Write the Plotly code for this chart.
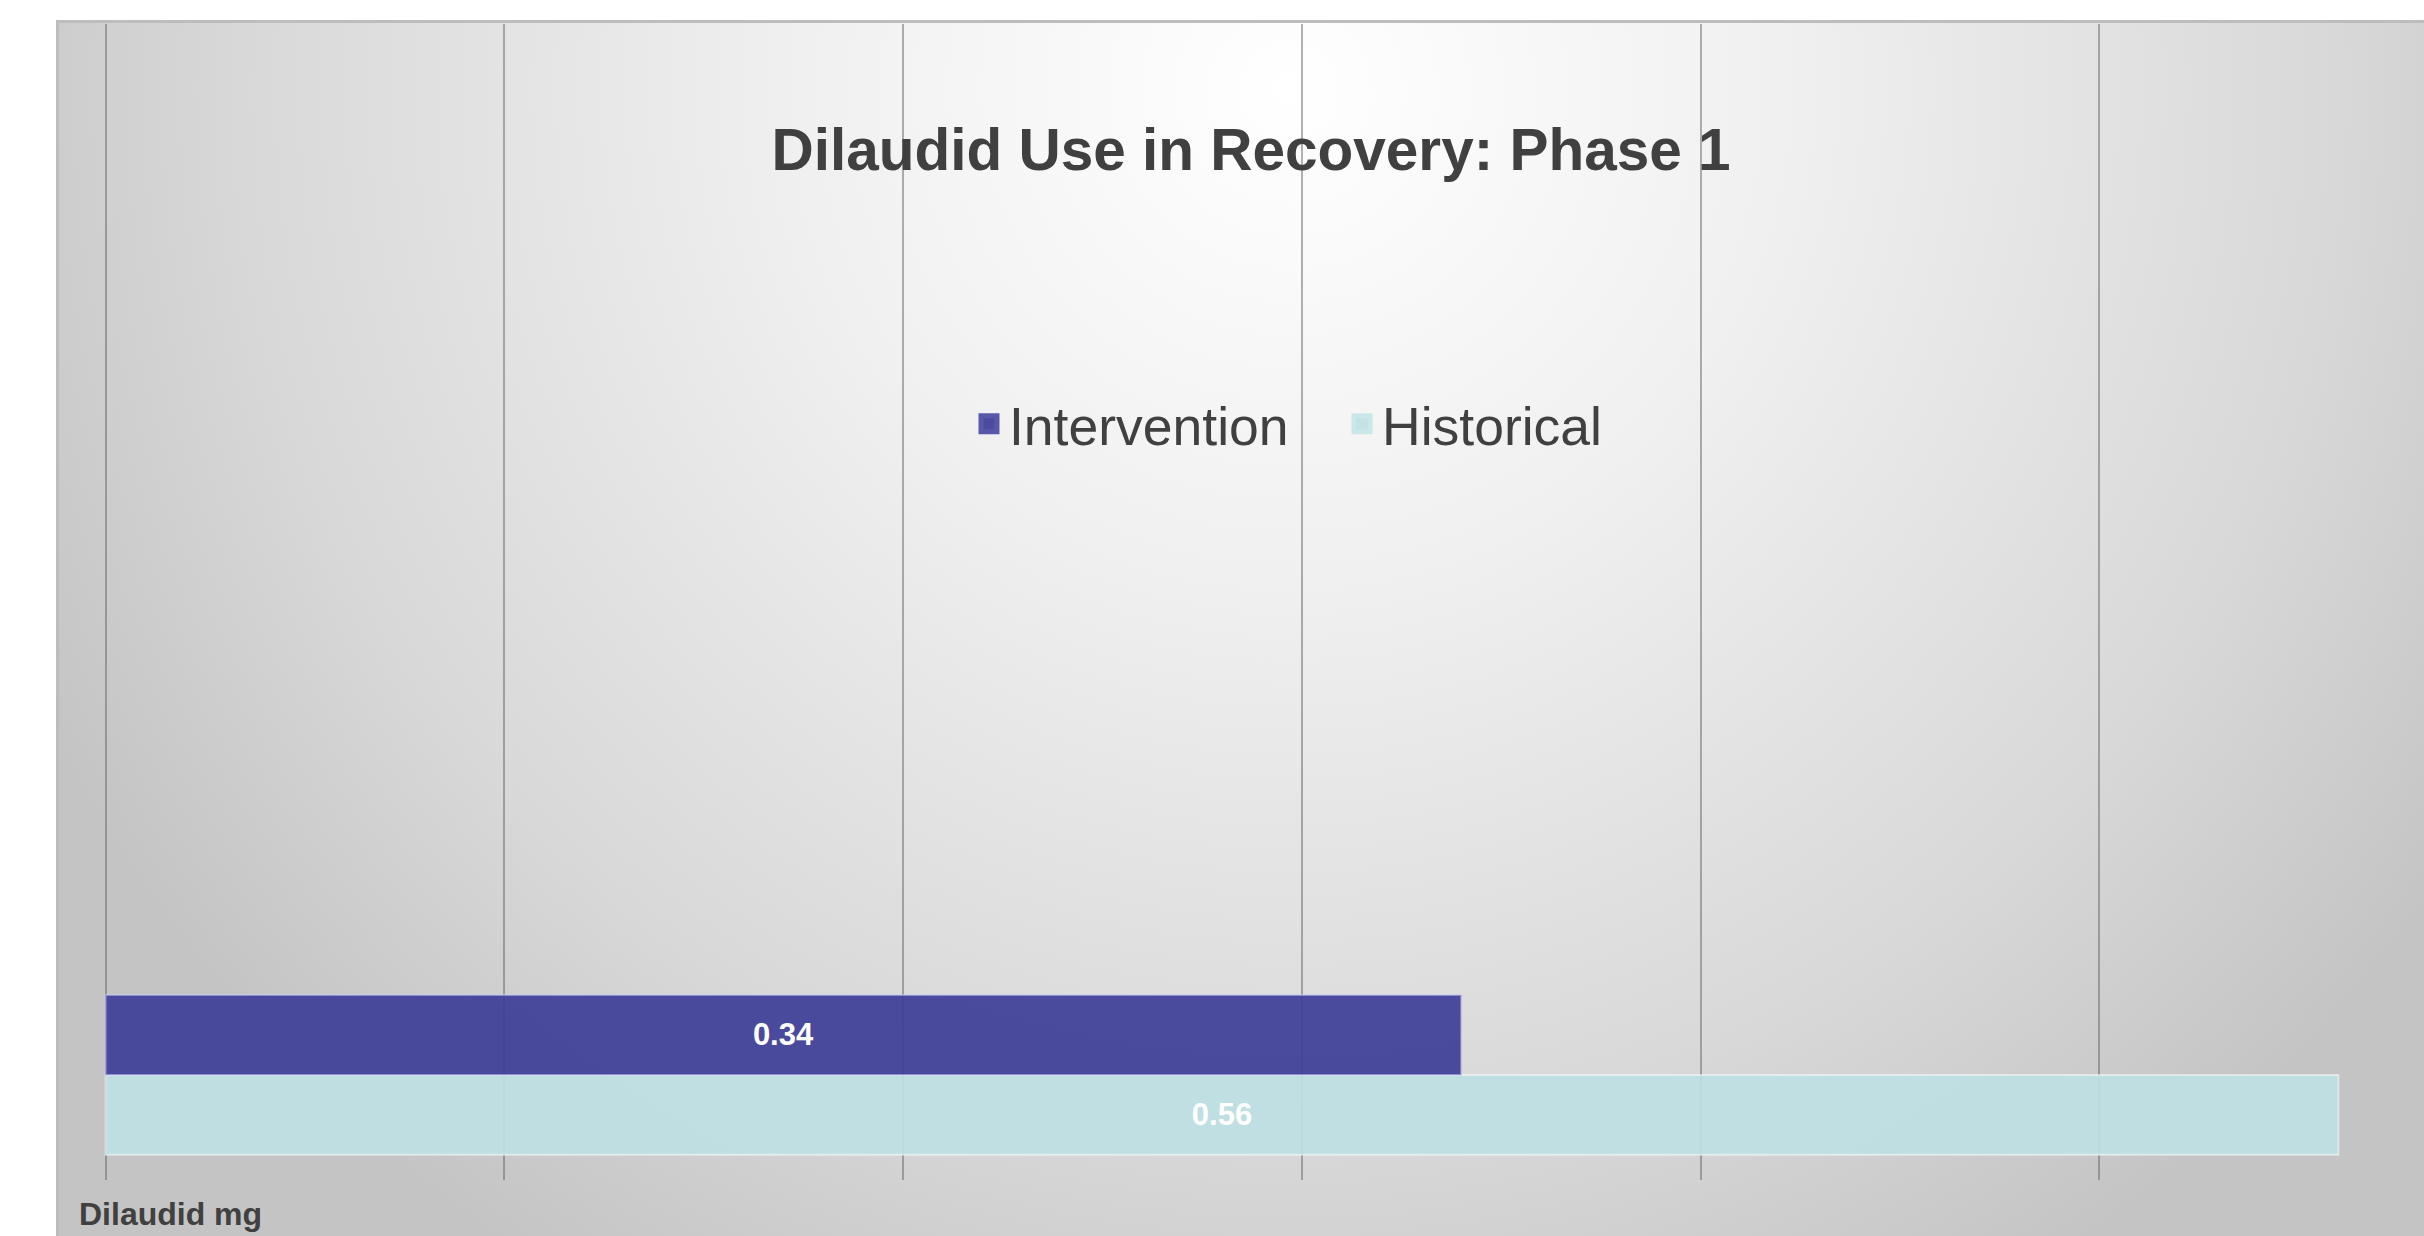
import plotly.graph_objects as go
import base64

# ---- data ----
categories = ["Dilaudid mg"]
intervention = [0.34]
historical = [0.56]
series_names = ["Intervention", "Historical"]
title_text = "Dilaudid Use in Recovery: Phase 1"

W, H = 2424, 1236
ML, MR, MT, MB = 104, 0, 24, 56
PW, PH = W - ML - MR, H - MT - MB

FONT = "Liberation Sans, Arial, sans-serif"
C_INT = "rgba(62,62,152,0.92)"
C_HIS = "rgba(189,223,227,0.92)"

# background gradient panel (frame) as SVG
FX0, FY0 = 56, 20
FW, FH = W - FX0, H - FY0
CX, CY = 1290 - FX0, 90 - FY0
svg = f'''<svg xmlns="http://www.w3.org/2000/svg" width="{FW}" height="{FH}" viewBox="0 0 {FW} {FH}">
<defs><radialGradient id="g" gradientUnits="userSpaceOnUse" cx="{CX}" cy="{CY}" r="1400">
<stop offset="0" stop-color="#ffffff"/><stop offset="0.35" stop-color="#f0f0f0"/>
<stop offset="0.75" stop-color="#d8d8d8"/><stop offset="1" stop-color="#c4c4c4"/></radialGradient></defs>
<rect x="0" y="0" width="{FW}" height="{FH}" fill="url(#g)"/>
<line x1="0" y1="1.5" x2="{FW}" y2="1.5" stroke="#bdbdbd" stroke-width="3"/>
<line x1="1.5" y1="0" x2="1.5" y2="{FH}" stroke="#bdbdbd" stroke-width="3"/>
</svg>'''
svg_uri = "data:image/svg+xml;base64," + base64.b64encode(svg.encode()).decode()

fig = go.Figure()
fig.add_trace(go.Bar(
    y=categories, x=historical, orientation="h", name=series_names[1],
    marker=dict(color=C_HIS, line=dict(color="rgba(255,255,255,0.5)", width=2)),
    texttemplate="<b>%{x:.2f}</b>", textposition="inside", insidetextanchor="middle",
    textfont=dict(family=FONT, size=31, color="white"), textangle=0,
    showlegend=False, hoverinfo="x+name"))
fig.add_trace(go.Bar(
    y=categories, x=intervention, orientation="h", name=series_names[0],
    marker=dict(color=C_INT, line=dict(color="rgba(200,200,240,0.55)", width=2)),
    texttemplate="<b>%{x:.2f}</b>", textposition="inside", insidetextanchor="middle",
    textfont=dict(family=FONT, size=31, color="white"), textangle=0,
    showlegend=False, hoverinfo="x+name"))

# legend proxies
fig.add_trace(go.Scatter(x=[None], y=[None], mode="markers", name=series_names[0],
                         marker=dict(symbol="square", size=16, color="#4b4ba0",
                                     line=dict(color="#5858ab", width=5))))
fig.add_trace(go.Scatter(x=[None], y=[None], mode="markers", name=series_names[1],
                         marker=dict(symbol="square", size=16, color="#c2e2e5",
                                     line=dict(color="#cae7ea", width=5))))

fig.update_layout(
    width=W, height=H,
    margin=dict(l=ML, r=MR, t=MT, b=MB, pad=0),
    paper_bgcolor="white", plot_bgcolor="rgba(0,0,0,0)",
    barmode="group", bargap=0.24, bargroupgap=0,
    font=dict(family=FONT, color="#404040"),
    title=dict(text=f"<b>{title_text}</b>", font=dict(family=FONT, size=58.5, color="#404040"),
               x=(1251 - ML) / PW, xref="paper", xanchor="center",
               y=1 - 150 / H, yref="container", yanchor="middle"),
    legend=dict(orientation="h", x=(969 - ML) / PW, xanchor="left",
                y=(H - MB - 424) / PH, yanchor="middle",
                font=dict(family=FONT, size=53.5, color="#404040"),
                bgcolor="rgba(0,0,0,0)", itemsizing="trace",
                entrywidth=328, entrywidthmode="pixels"),
    xaxis=dict(range=[-0.0004, (W - ML) / 3990], dtick=0.1, tick0=0,
               showgrid=True, gridcolor="rgba(100,100,100,0.5)", gridwidth=1.5,
               zeroline=True, zerolinecolor="rgba(100,100,100,0.5)", zerolinewidth=1.5,
               showticklabels=False, showline=False, ticks=""),
    yaxis=dict(type="category", range=[-0.5, 5.0], showticklabels=False,
               showgrid=False, zeroline=False, showline=False, ticks=""),
    images=[dict(source=svg_uri, xref="paper", yref="paper",
                 x=(FX0 - ML) / PW, y=1 + (MT - FY0) / PH,
                 sizex=FW / PW, sizey=FH / PH, sizing="stretch",
                 xanchor="left", yanchor="top", layer="below")],
    annotations=[dict(text=f"<b>{categories[0]}</b>", xref="paper", yref="paper",
                      x=(77 - ML) / PW, y=-(1214 - (H - MB)) / PH,
                      xanchor="left", yanchor="middle", showarrow=False,
                      font=dict(family=FONT, size=32, color="#404040"))],
)

fig.write_html("out.html", config={"displayModeBar": False},
               post_script="document.body.style.margin='0';document.body.style.overflow='hidden';")
